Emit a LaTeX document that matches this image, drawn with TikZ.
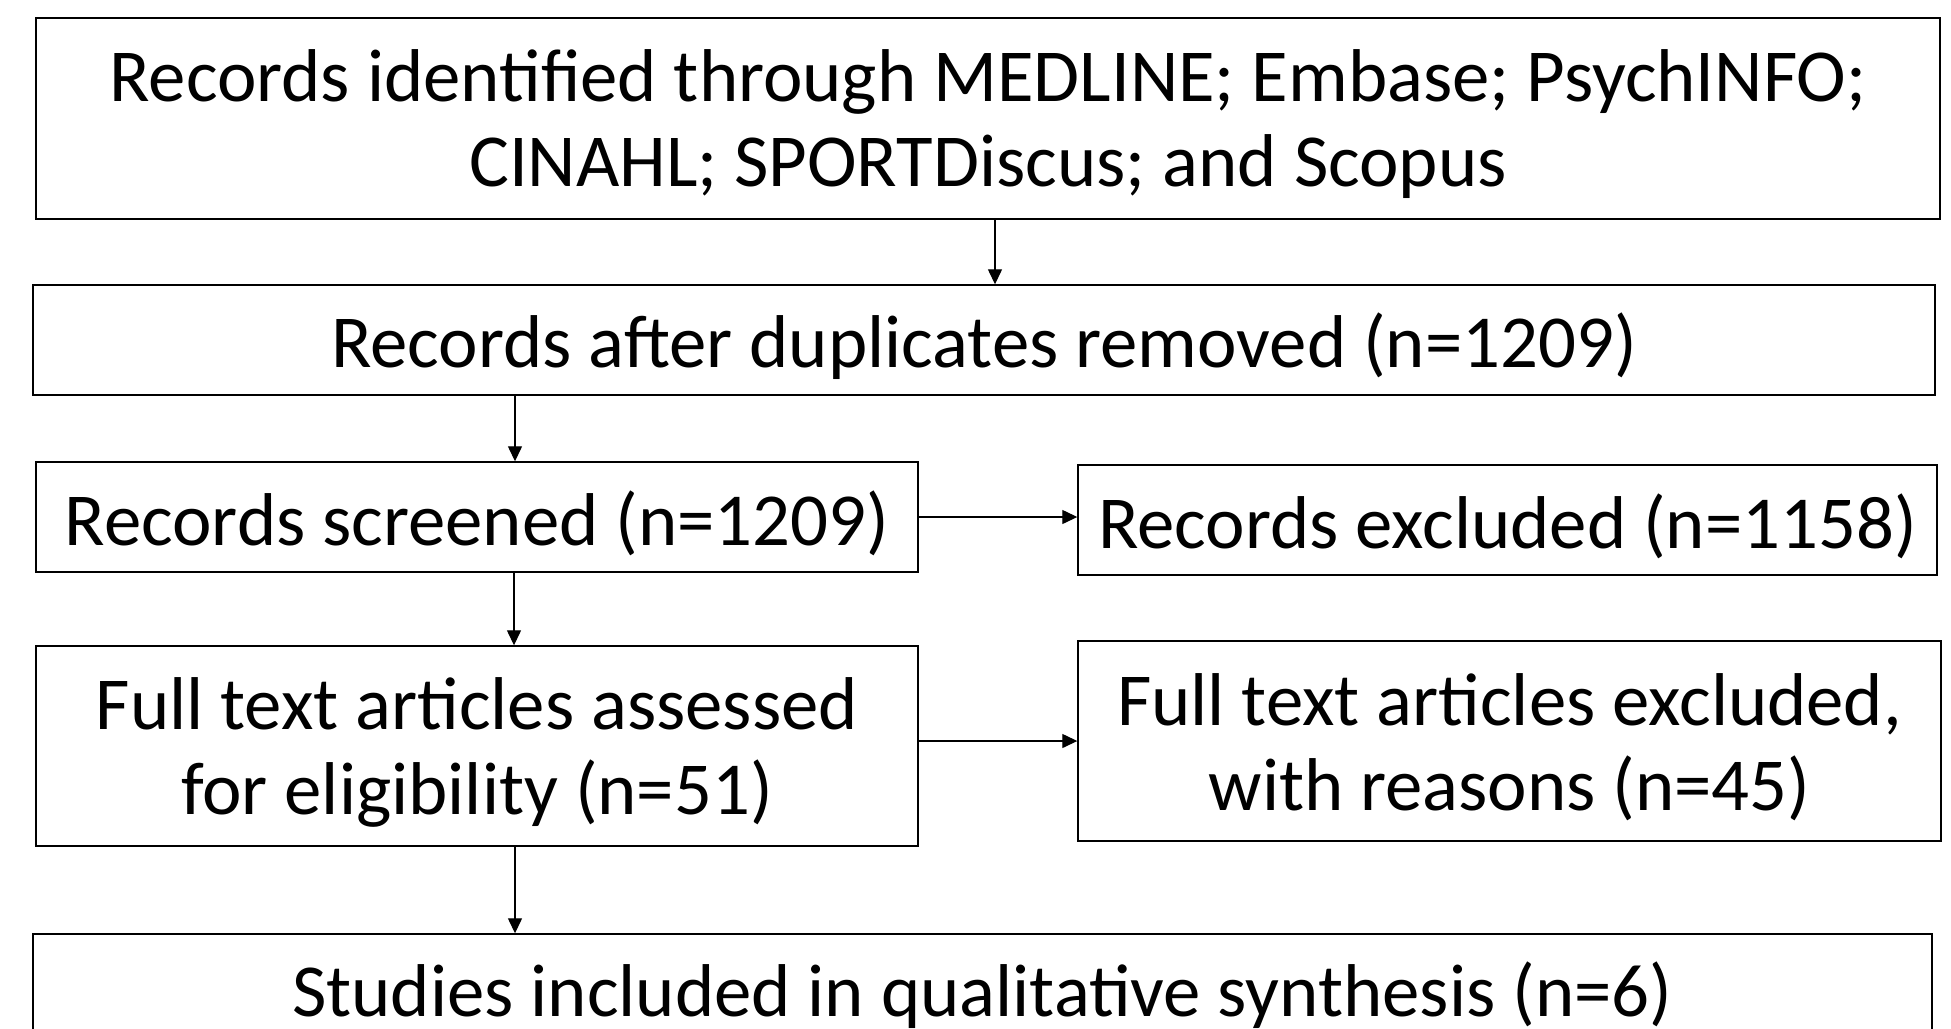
\documentclass[tikz,border=0pt]{standalone}
\usepackage{fontspec}
\setmainfont{Carlito}
\usetikzlibrary{arrows.meta}
\begin{document}
\begin{tikzpicture}[x=0.5pt,y=-0.5pt,
  box/.style={draw=black, line width=0.7pt, rectangle, inner sep=0pt},
  txt/.style={inner sep=0pt, align=center, font=\fontsize{37.4}{42.5}\selectfont},
  arr/.style={draw=black, line width=0.65pt, -{Triangle[length=7.5pt,width=7pt]}}]
\useasboundingbox (0,0) rectangle (1951,1029);
\clip (0,0) rectangle (1951,1029);
\fill[white] (0,0) rectangle (1951,1029);
\node[box, minimum width=952pt, minimum height=100.5pt] (b1) at (988,118.5) {};
\node[box, minimum width=951pt, minimum height=55pt] (b2) at (984,340) {};
\node[box, minimum width=441pt, minimum height=55pt] (b3) at (477,517) {};
\node[box, minimum width=429.5pt, minimum height=55pt] (b4) at (1507.5,520) {};
\node[box, minimum width=441pt, minimum height=100pt] (b5) at (477,746) {};
\node[box, minimum width=431.5pt, minimum height=100pt] (b6) at (1509.5,741) {};
\node[box, minimum width=949.5pt, minimum height=55pt] (b7) at (982.5,989) {};
\node[txt] (t1) at ([yshift=-3pt]b1.center)
  {Records identified through MEDLINE; Embase; PsychINFO;\\CINAHL; SPORTDiscus; and Scopus};
\node[txt] (t2) at ([yshift=-3pt]b2.center) {Records after duplicates removed (n=1209)};
\node[txt] (t3) at ([yshift=-3pt]b3.center) {Records screened (n=1209)};
\node[txt] (t4) at ([yshift=-3pt]b4.center) {Records excluded (n=1158)};
\node[txt] (t5) at ([yshift=-3pt]b5.center) {Full text articles assessed\\for eligibility (n=51)};
\node[txt] (t6) at ([yshift=-3pt]b6.center) {Full text articles excluded,\\with reasons (n=45)};
\node[txt] (t7) at ([yshift=-3pt]b7.center) {Studies included in qualitative synthesis (n=6)};
\coordinate (c1) at (995,0);
\coordinate (c2) at (515,0);
\coordinate (c3) at (514,0);
\draw[arr] (b1.south -| c1) -- (b2.north -| c1);
\draw[arr] (b2.south -| c2) -- (b3.north -| c2);
\draw[arr] (b3.south -| c3) -- (b5.north -| c3);
\draw[arr] (b5.south -| c2) -- (b7.north -| c2);
\draw[arr] (b3.east) -- (b3.east -| b4.west);
\draw[arr] (b6.west -| b5.east) -- (b6.west);
\end{tikzpicture}
\end{document}
